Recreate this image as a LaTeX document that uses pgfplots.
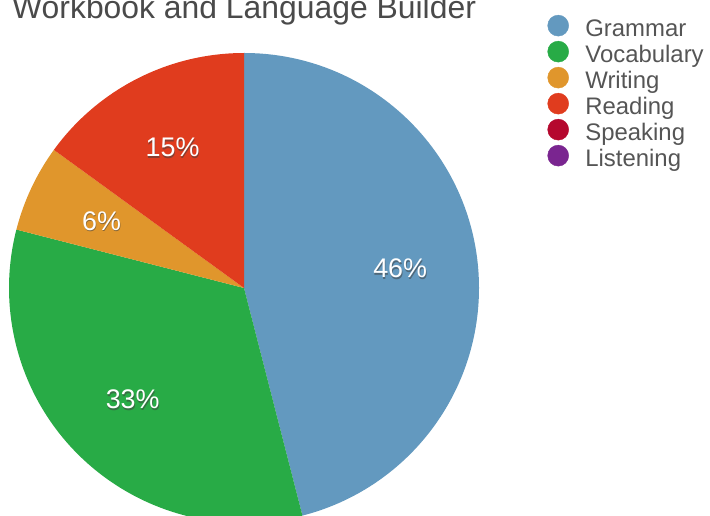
\documentclass[border=0pt]{standalone}
\usepackage{pgfplots}
\usepackage{pgfplotstable}
\pgfplotsset{compat=1.18}
\usepackage{fontspec}
\setmainfont{Liberation Sans}

\definecolor{cGrammar}{HTML}{6399BF}
\definecolor{cVocabulary}{HTML}{28AB46}
\definecolor{cWriting}{HTML}{E0962C}
\definecolor{cReading}{HTML}{E03C1E}
\definecolor{cSpeaking}{HTML}{B5082E}
\definecolor{cListening}{HTML}{7A2590}
\definecolor{titlegray}{HTML}{4A4A4A}
\definecolor{leggray}{HTML}{555555}

\pgfplotstableread{
name value
Grammar 46
Vocabulary 33
Writing 6
Reading 15
Speaking 0
Listening 0
}\piedata

\begin{document}
\begin{tikzpicture}
\useasboundingbox (0bp,0bp) rectangle (710bp,516bp);
\node[anchor=base west, inner sep=0pt, text=titlegray, font=\fontsize{32}{34}\selectfont] at (12bp,497bp) {Workbook and Language Builder};
\begin{axis}[
  at={(244bp,228bp)}, anchor=center,
  scale only axis, width=470bp, height=470bp,
  xmin=-1, xmax=1, ymin=-1, ymax=1,
  hide axis,
  legend image code/.code={\fill (10.5bp,3.5bp) circle[radius=10.5bp];},
  legend cell align=left,
  legend style={at={(axis description cs:1.1457,1.081)}, anchor=north west,
    draw=none, fill=none, inner sep=0pt, outer sep=0pt, row sep=-0.7bp,
    font=\fontsize{24}{26}\selectfont, text=leggray,
    nodes={inner sep=0pt, text height=19.5bp, text depth=5.5bp},
    /tikz/every odd column/.append style={column sep=16.5bp}},
]
\pgfplotstablegetrowsof{\piedata}
\pgfmathtruncatemacro\nrows{\pgfplotsretval-1}
\def\startang{90}
\pgfplotsforeachungrouped \i in {0,...,\nrows}{%
  \pgfplotstablegetelem{\i}{value}\of\piedata \let\val\pgfplotsretval
  \pgfplotstablegetelem{\i}{name}\of\piedata \let\nm\pgfplotsretval
  \pgfmathsetmacro\endang{\startang-3.6*\val}%
  \pgfmathsetmacro\midang{(\startang+\endang)/2}%
  \pgfmathsetmacro\sx{cos(\startang)}%
  \pgfmathsetmacro\sy{sin(\startang)}%
  \pgfmathsetmacro\lx{0.67*cos(\midang)}%
  \pgfmathsetmacro\ly{0.67*sin(\midang)}%
  \ifdim\val pt>0pt
    \edef\temp{%
      \noexpand\fill[c\nm] (axis cs:0,0) -- (axis cs:\sx,\sy) arc[start angle=\startang, end angle=\endang, radius=1] -- cycle;
      \noexpand\node[font=\noexpand\fontsize{27}{29}\noexpand\selectfont, text=black!75, opacity=0.55, xshift=0.6bp, yshift=-1.6bp] at (axis cs:\lx,\ly) {\val\noexpand\%};
      \noexpand\node[font=\noexpand\fontsize{27}{29}\noexpand\selectfont, text=white] at (axis cs:\lx,\ly) {\val\noexpand\%};
    }%
    \temp
  \fi
  \let\startang\endang
}
\addlegendimage{cGrammar}\addlegendentry{Grammar}
\addlegendimage{cVocabulary}\addlegendentry{Vocabulary}
\addlegendimage{cWriting}\addlegendentry{Writing}
\addlegendimage{cReading}\addlegendentry{Reading}
\addlegendimage{cSpeaking}\addlegendentry{Speaking}
\addlegendimage{cListening}\addlegendentry{Listening}
\end{axis}
\end{tikzpicture}
\end{document}
